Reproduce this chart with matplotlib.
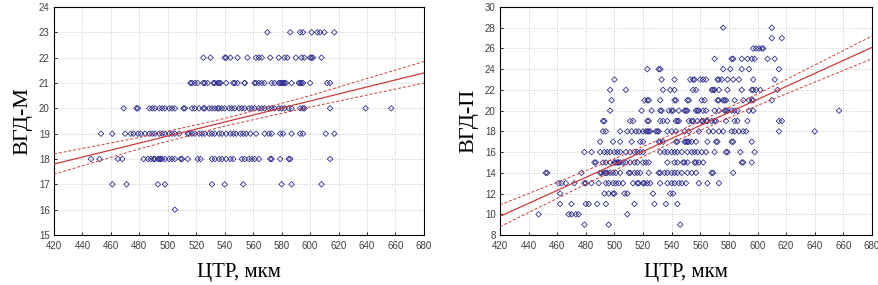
import matplotlib
matplotlib.use('Agg')
import matplotlib.pyplot as plt

# left panel: ВГД-М vs ЦТР, x values per integer level
left_rows = {
    23: [570, 586, 593, 595, 601, 605, 607, 610, 617],
    22: [525, 530, 540, 541, 544, 549, 556, 562, 564, 566, 572, 578, 582, 584,
         590, 594, 596, 600, 601, 602, 608],
    21: [516, 517, 519, 521, 525, 526, 528, 532, 533, 535, 536, 537, 541, 546,
         547, 549, 554, 554, 561, 562, 564, 566, 568, 573, 575, 578, 579, 580,
         581, 582, 583, 587, 592, 593, 594, 595, 600, 612, 614],
    20: [469, 478, 479, 487, 489, 491, 494, 496, 498, 501, 503, 505, 511, 512,
         517, 519, 522, 525, 526, 529, 531, 533, 535, 536, 538, 540, 543, 545,
         547, 550, 552, 554, 557, 559, 561, 564, 566, 568, 571, 573, 575, 578,
         580, 582, 585, 587, 593, 595, 596, 614, 639, 657],
    19: [453, 461, 470, 474, 476, 479, 481, 484, 487, 489, 491, 494, 496, 498,
         501, 503, 505, 508, 514, 515, 517, 519, 522, 524, 526, 529, 531, 533,
         536, 538, 541, 544, 546, 548, 551, 553, 555, 558, 562, 568, 571, 573,
         579, 581, 587, 593, 595, 611, 617],
    18: [446, 452, 465, 468, 483, 486, 488, 490, 491, 493, 494, 495, 496, 498,
         501, 503, 505, 509, 510, 514, 521, 523, 531, 533, 536, 538, 541, 544,
         546, 552, 554, 557, 559, 561, 564, 572, 573, 579, 585, 586, 614],
    17: [461, 471, 493, 498, 531, 540, 553, 580, 587, 608],
    16: [505],
}

# right panel: ВГД-П vs ЦТР
right_rows = {
    28: [576, 610],
    27: [610, 617],
    26: [597, 599, 601, 603, 604],
    25: [570, 582, 583, 589, 593, 596, 598, 607, 612],
    24: [523, 531, 532, 576, 581, 589, 594, 615],
    23: [500, 533, 542, 553, 555, 556, 560, 562, 564, 572, 573, 575, 579, 583,
         587, 597, 612],
    22: [497, 508, 534, 539, 542, 555, 557, 568, 569, 570, 573, 579, 589, 596,
         597, 599, 602, 614],
    21: [498, 521, 523, 524, 532, 542, 543, 551, 552, 561, 563, 572, 573, 576,
         577, 578, 584, 590, 594, 596, 597, 610],
    20: [497, 519, 526, 532, 533, 538, 540, 541, 545, 549, 550, 551, 557, 558,
         559, 562, 564, 570, 573, 577, 578, 579, 582, 584, 586, 594, 597, 657],
    19: [492, 493, 511, 513, 523, 524, 532, 534, 537, 543, 544, 545, 552, 554,
         555, 558, 561, 562, 564, 565, 568, 570, 571, 578, 584, 586, 593, 615,
         617],
    18: [492, 494, 504, 509, 512, 515, 517, 520, 522, 523, 524, 525, 529, 530,
         531, 537, 540, 543, 549, 552, 559, 566, 569, 573, 576, 582, 584, 587,
         590, 592, 615, 640],
    17: [490, 499, 504, 512, 518, 520, 531, 532, 534, 543, 544, 549, 550, 551,
         552, 554, 557, 565, 571, 572, 582, 583, 596],
    16: [479, 484, 490, 493, 495, 497, 500, 502, 504, 508, 511, 514, 516, 518,
         520, 532, 535, 537, 540, 542, 544, 547, 551, 554, 556, 558, 561, 564,
         570, 578, 579, 588, 598],
    15: [486, 487, 492, 494, 497, 500, 501, 502, 503, 504, 506, 508, 511, 514,
         516, 520, 522, 524, 537, 542, 544, 548, 549, 551, 556, 557, 559, 562,
         589, 590, 596],
    14: [452, 453, 477, 490, 491, 493, 494, 495, 497, 499, 501, 504, 510, 511,
         514, 516, 518, 524, 531, 532, 535, 537, 540, 542, 544, 547, 551, 554,
         557, 568, 569, 583],
    13: [461, 463, 466, 472, 479, 480, 484, 489, 494, 496, 499, 501, 503, 506,
         513, 516, 517, 520, 521, 523, 525, 532, 537, 540, 542, 545, 547, 550,
         559, 565, 573],
    12: [462, 493, 496, 499, 500, 507, 509, 527, 539, 541],
    11: [462, 470, 480, 482, 488, 494, 514, 528, 536, 544],
    10: [447, 468, 470, 473, 475, 509],
    9: [479, 496, 546],
}

# regression line and 95% bands
fit_x = [420, 480, 540, 600, 680]
left_fit = [17.8, 18.63, 19.46, 20.29, 21.4]
left_hi = [18.2, 18.85, 19.6, 20.5, 21.85]
left_lo = [17.4, 18.4, 19.3, 20.05, 21.0]
right_fit = [9.8, 13.56, 17.32, 21.08, 26.1]
right_hi = [10.9, 14.2, 17.7, 21.6, 27.2]
right_lo = [8.8, 12.9, 16.9, 20.5, 25.0]

x_ticks = list(range(420, 681, 20))
left_yticks = list(range(15, 25))
right_yticks = list(range(8, 31, 2))


def draw_panel(ax, rows, fit, hi, lo, yticks, ylabel):
    xs, ys = [], []
    for level, vals in rows.items():
        xs += vals
        ys += [level] * len(vals)
    ax.scatter(xs, ys, marker='D', s=8, facecolors='none',
               edgecolors='#22228c', linewidths=0.55, zorder=3)
    ax.plot(fit_x, fit, color='#d03a3a', lw=0.9, zorder=4)
    ax.plot(fit_x, hi, color='#d03a3a', lw=0.7, ls=(0, (3, 2)), zorder=4)
    ax.plot(fit_x, lo, color='#d03a3a', lw=0.7, ls=(0, (3, 2)), zorder=4)
    ax.set_xlim(420, 680)
    ax.set_ylim(yticks[0], yticks[-1])
    ax.set_xticks(x_ticks)
    ax.set_yticks(yticks)
    ax.grid(True, color='#c8c8c8', ls=':', lw=0.7)
    ax.tick_params(direction='in', length=2.5, width=0.6, labelsize=7,
                   labelcolor='#404040')
    ax.tick_params(axis='x', pad=4)
    ax.tick_params(axis='y', pad=3)
    for lab in ax.get_xticklabels() + ax.get_yticklabels():
        lab.set_family('Liberation Sans')
    for sp in ax.spines.values():
        sp.set_linewidth(0.8)
    ax.set_ylabel(ylabel, family='Liberation Serif', fontsize=16, labelpad=5)
    ax.set_xlabel('ЦТР, мкм', family='Liberation Serif', fontsize=15,
                  labelpad=9)


fig = plt.figure(figsize=(8.79, 2.85), dpi=100)
ax1 = fig.add_axes([0.0614, 0.1754, 0.4209, 0.80])
ax2 = fig.add_axes([0.5688, 0.1754, 0.4232, 0.80])
draw_panel(ax1, left_rows, left_fit, left_hi, left_lo, left_yticks, 'ВГД-М')
draw_panel(ax2, right_rows, right_fit, right_hi, right_lo, right_yticks, 'ВГД-П')
fig.savefig('out.png', dpi=100)
